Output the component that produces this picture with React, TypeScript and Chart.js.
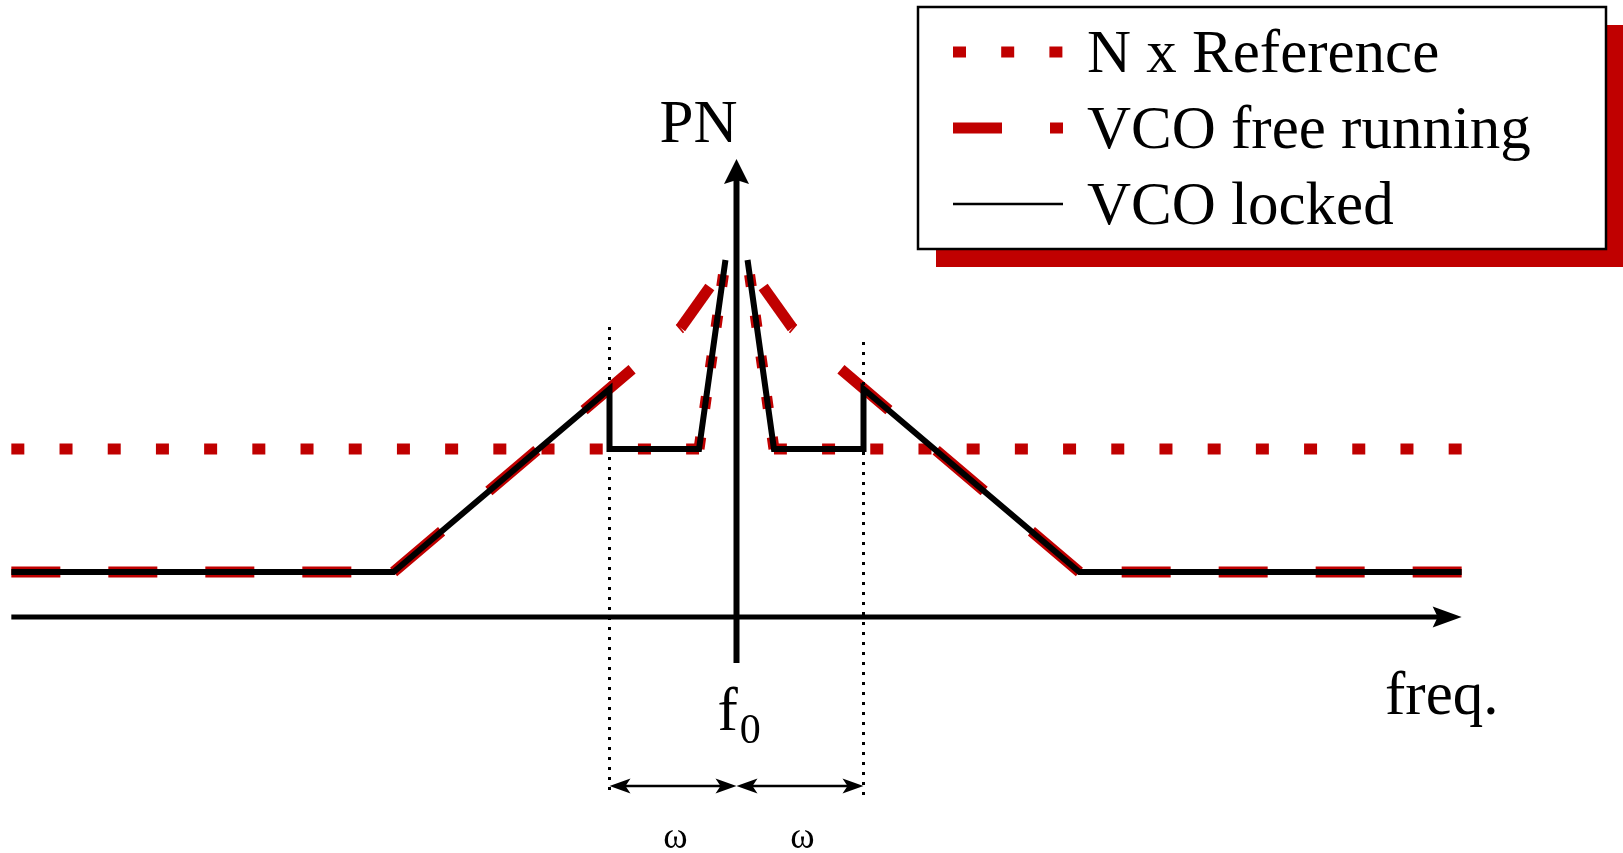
import React, { useEffect, useRef } from "react";
import { Chart, registerables } from "chart.js";

Chart.register(...registerables);

const RED = "#c00000";
const BLACK = "#000000";
const FONT = "'Liberation Serif', 'Times New Roman', serif";

// x: offset from f0 in units of ω ; y: phase noise (arbitrary units)
const refLeftX = [-5.71, -0.295, -0.087];
const refLeftY = [16.8, 16.8, 35.7];
const refRightX = [5.71, 0.295, 0.087];
const refRightY = [16.8, 16.8, 35.7];

const freeLeftX = [-5.71, -2.7, -0.44, -0.21];
const freeLeftY = [4.5, 4.5, 28.9, 33.0];
const freeRightX = [5.71, 2.7, 0.44, 0.21];
const freeRightY = [4.5, 4.5, 28.9, 33.0];

const lockedLeftX = [-5.71, -2.7, -1.0, -1.0, -0.295, -0.087];
const lockedLeftY = [4.5, 4.5, 22.8, 16.8, 16.8, 35.7];
const lockedRightX = [5.71, 2.7, 1.0, 1.0, 0.295, 0.087];
const lockedRightY = [4.5, 4.5, 22.8, 16.8, 16.8, 35.7];

const legendLabels = ["N x Reference", "VCO free running", "VCO locked"];
const yAxisLabel = "PN";
const xAxisLabel = "freq.";
const centerLabel = "f";
const centerSub = "0";
const spanLabel = "ω";

const xAxisRange = [-5.71, 5.71];
const yAxisRange = [-4.6, 45.8];
const spanEdges = [-1, 1];
const spanTops = [29.0, 27.5];
const spanBottom = -18.0;
const spanArrowY = -16.9;
const spanLabelX = [-0.48, 0.52];

const pts = (xs: number[], ys: number[]) => xs.map((x, i) => ({ x, y: ys[i] }));

const refDash = (c: any) => (c.p0DataIndex === 0 ? [13, 35.2] : [12, 29]);
const freeDashes = [[49, 48], [63, 62], []];
const freeDash = (c: any) => freeDashes[c.p0DataIndex] || [];

function arrowHead(ctx: CanvasRenderingContext2D, tx: number, ty: number, ang: number, L: number, H: number, N: number) {
  const dx = Math.cos(ang), dy = Math.sin(ang);
  const nx = -dy, ny = dx;
  ctx.beginPath();
  ctx.moveTo(tx, ty);
  ctx.lineTo(tx - L * dx + H * nx, ty - L * dy + H * ny);
  ctx.lineTo(tx - (L - N) * dx, ty - (L - N) * dy);
  ctx.lineTo(tx - L * dx - H * nx, ty - L * dy - H * ny);
  ctx.closePath();
  ctx.fill();
}

const decor = {
  id: "decor",
  afterDatasetsDraw(chart: any) {
    const ctx: CanvasRenderingContext2D = chart.ctx;
    const xs = chart.scales.x, ys = chart.scales.y;
    const px = (v: number) => xs.getPixelForValue(v);
    const py = (v: number) => ys.getPixelForValue(v);
    ctx.save();
    ctx.strokeStyle = BLACK;
    ctx.fillStyle = BLACK;
    ctx.lineCap = "butt";

    // dotted span lines
    ctx.lineWidth = 3;
    ctx.setLineDash([3, 7]);
    spanEdges.forEach((e, i) => {
      ctx.beginPath();
      ctx.moveTo(px(e), py(spanTops[i]));
      ctx.lineTo(px(e), py(spanBottom));
      ctx.stroke();
    });
    ctx.setLineDash([]);

    // x axis
    const y0 = py(0);
    ctx.lineWidth = 5;
    ctx.beginPath();
    ctx.moveTo(px(xAxisRange[0]), y0);
    ctx.lineTo(px(xAxisRange[1]) - 20, y0);
    ctx.stroke();
    arrowHead(ctx, px(xAxisRange[1]), y0, 0, 29, 10.5, 5);

    // y axis
    const x0 = px(0);
    ctx.lineWidth = 6;
    ctx.beginPath();
    ctx.moveTo(x0, py(yAxisRange[0]));
    ctx.lineTo(x0, py(yAxisRange[1]) + 18);
    ctx.stroke();
    arrowHead(ctx, x0, py(yAxisRange[1]), -Math.PI / 2, 25, 12.5, 4);

    // span arrows
    const ya = py(spanArrowY);
    ctx.lineWidth = 2.5;
    const segs = [[spanEdges[0], 0], [0, spanEdges[1]]];
    segs.forEach(([a, b]) => {
      const xa = px(a), xb = px(b);
      ctx.beginPath();
      ctx.moveTo(xa + 10, ya);
      ctx.lineTo(xb - 10, ya);
      ctx.stroke();
      arrowHead(ctx, xa, ya, Math.PI, 21, 7.5, 5);
      arrowHead(ctx, xb, ya, 0, 21, 7.5, 5);
    });

    // labels
    ctx.textBaseline = "alphabetic";
    ctx.font = `61px ${FONT}`;
    ctx.textAlign = "right";
    ctx.fillText(yAxisLabel, x0 + 1, py(yAxisRange[1]) - 17);
    ctx.textAlign = "left";
    ctx.fillText(xAxisLabel, 1385, 714);
    ctx.fillText(centerLabel, x0 - 19, 730);
    const fw = ctx.measureText(centerLabel).width;
    ctx.font = `42px ${FONT}`;
    ctx.fillText(centerSub, x0 - 19 + fw + 2, 743);
    ctx.font = `37px ${FONT}`;
    ctx.textAlign = "center";
    spanLabelX.forEach((v) => ctx.fillText(spanLabel, px(v), 848));
    ctx.restore();
  },
  afterDraw(chart: any) {
    const ctx: CanvasRenderingContext2D = chart.ctx;
    ctx.save();
    // legend box with shadow
    const bx = 918, by = 7, bw = 688, bh = 242;
    ctx.fillStyle = RED;
    ctx.fillRect(bx + 18, by + 18, bw, bh);
    ctx.fillStyle = "#ffffff";
    ctx.fillRect(bx, by, bw, bh);
    ctx.strokeStyle = BLACK;
    ctx.lineWidth = 2.5;
    ctx.strokeRect(bx, by, bw, bh);

    const rows = [52, 128, 204];
    const x1 = 953, x2 = 1063;
    ctx.lineCap = "butt";
    ctx.strokeStyle = RED;
    ctx.lineWidth = 11;
    ctx.setLineDash([13, 35.2]);
    ctx.beginPath(); ctx.moveTo(x1, rows[0]); ctx.lineTo(x2, rows[0]); ctx.stroke();
    ctx.setLineDash([49, 48]);
    ctx.beginPath(); ctx.moveTo(x1, rows[1]); ctx.lineTo(x2, rows[1]); ctx.stroke();
    ctx.setLineDash([]);
    ctx.strokeStyle = BLACK;
    ctx.lineWidth = 2.5;
    ctx.beginPath(); ctx.moveTo(x1, rows[2]); ctx.lineTo(x2, rows[2]); ctx.stroke();

    ctx.fillStyle = BLACK;
    ctx.font = `61px ${FONT}`;
    ctx.textAlign = "left";
    ctx.textBaseline = "alphabetic";
    legendLabels.forEach((t, i) => ctx.fillText(t, 1087, 72 + 76 * i));
    ctx.restore();
  },
};

export default function App() {
  const ref = useRef<HTMLCanvasElement | null>(null);
  useEffect(() => {
    if (!ref.current) return;
    const common = {
      pointRadius: 0,
      pointHoverRadius: 0,
      tension: 0,
      fill: false,
      spanGaps: false,
      borderCapStyle: "butt",
      borderJoinStyle: "miter",
    };
    const chart = new Chart(ref.current, {
      type: "line",
      data: {
        datasets: [
          { ...common, label: legendLabels[0], data: pts(refLeftX, refLeftY), borderColor: RED, borderWidth: 11, order: 2, segment: { borderDash: refDash } },
          { ...common, label: legendLabels[0], data: pts(refRightX, refRightY), borderColor: RED, borderWidth: 11, order: 2, segment: { borderDash: refDash } },
          { ...common, label: legendLabels[1], data: pts(freeLeftX, freeLeftY), borderColor: RED, borderWidth: 11, order: 1, segment: { borderDash: freeDash } },
          { ...common, label: legendLabels[1], data: pts(freeRightX, freeRightY), borderColor: RED, borderWidth: 11, order: 1, segment: { borderDash: freeDash } },
          { ...common, label: legendLabels[2], data: pts(lockedLeftX, lockedLeftY), borderColor: BLACK, borderWidth: 6, order: 0 },
          { ...common, label: legendLabels[2], data: pts(lockedRightX, lockedRightY), borderColor: BLACK, borderWidth: 6, order: 0 },
        ] as any,
      },
      options: {
        animation: false,
        responsive: false,
        devicePixelRatio: 1,
        events: [],
        layout: { padding: 0 },
        scales: {
          x: { type: "linear", min: -736.5 / 127, max: (1623 - 736.5) / 127, display: false },
          y: { type: "linear", min: -23.6, max: 61.7, display: false },
        },
        plugins: { legend: { display: false }, tooltip: { enabled: false } },
      } as any,
      plugins: [decor],
    });
    return () => chart.destroy();
  }, []);
  return (
    <canvas
      ref={ref}
      width={1623}
      height={853}
      style={{ position: "fixed", left: 0, top: 0, width: 1623, height: 853, background: "#fff" }}
    />
  );
}
